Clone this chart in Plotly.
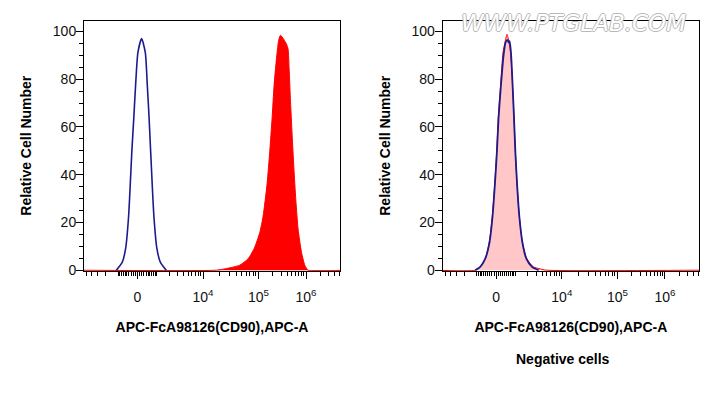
import numpy as np
import plotly.graph_objects as go

# ---------------- data (fluorescence intensity vs relative cell number) ----------------
# Left panel: CD90 stained (filled red) vs control (blue line)
red_left_x = [-8000, 17500, 26500, 46000, 65000, 83300, 106500, 125000, 151700, 172900,
              193400, 213000, 246400, 267600, 290500, 341000, 389000, 420000, 441000,
              472000, 510000, 554000, 610000, 682000, 804000, 943000, 1107000, 6000000]
red_left_y = [0, 0, 0.7, 2.1, 4.8, 9.0, 15.8, 22.6, 36.3, 50.0,
              63.8, 77.5, 91.2, 96.7, 98.4, 96.7, 94.7, 92.6, 84.4,
              70.7, 56.9, 43.2, 29.5, 17.2, 7.5, 2.1, 0, 0]

blue_left_x = [-1130, -754, -572, -419, -259, -170, -87, 18, 189, 365, 464, 556, 636,
               823, 1011, 1244, 1731]
blue_left_y = [0, 3.4, 9, 22.6, 50.2, 63.8, 77.5, 91.2, 97.1, 91.2, 77.5, 63.8, 50.2,
               22.6, 9, 3.4, 0]

# Right panel: negative cells (pink filled) vs control (blue line)
red_right_x = [-8000, -1116, -800, -525, -326, -184, -69, 23, 92, 198, 312, 399, 510, 562,
               647, 714, 818, 903, 986, 1099, 1260, 1498, 1900, 2630, 3680, 4880, 6000000]
red_right_y = [0, 0, 1.4, 4.8, 11.7, 22.6, 36.3, 50, 63.8, 77.5, 91, 95, 98.8, 97.5,
               94, 90, 77.5, 63.8, 50, 36.3, 22.6, 11.7, 4.8, 1.4, 0.5, 0, 0]

blue_right_x = [-1116, -800, -525, -312, -170, -60, 32, 105, 217, 340, 439, 541, 593, 647,
                724, 818, 903, 986, 1099, 1260, 1498, 1850, 2468, 3390]
blue_right_y = [0, 1.4, 4.8, 11.7, 22.6, 36.3, 50, 63.8, 77.5, 90, 95.5, 96.5, 95.5, 96,
                91.2, 77.5, 63.8, 50, 36.3, 22.6, 11.7, 4.8, 1.4, 0]

tick_values = [0, 1e4, 1e5, 1e6]
tick_labels = ["0", "10<sup>4</sup>", "10<sup>5</sup>", "10<sup>6</sup>"]
minor_tick_values = ([-k * 100 for k in range(1, 10)] + [-k * 1000 for k in range(1, 6)] +
                     [k * 100 for k in range(1, 10)] + [k * 1000 for k in range(1, 10)] +
                     [k * 10000 for k in range(2, 10)] + [k * 100000 for k in range(2, 10)] +
                     [k * 1000000 for k in range(2, 6)])

x_title = "APC-FcA98126(CD90),APC-A"
y_title = "Relative Cell Number"
panel_title = "Negative cells"
watermark = "WWW.PTGLAB.COM"

# ---------------- biexponential-like display scale ----------------
W = 1000.0
SCALE_DECADES = np.array([0, 1e4, 1e5, 1e6])
SCALE_UNITS = np.array([0, 65.5, 121.0, 168.5])


def biex(v):
    u = np.arcsinh(np.asarray(v, dtype=float) / W)
    ku = np.arcsinh(SCALE_DECADES / W)
    out = np.interp(u, ku, SCALE_UNITS)
    s0 = (SCALE_UNITS[1] - SCALE_UNITS[0]) / (ku[1] - ku[0])
    s1 = (SCALE_UNITS[-1] - SCALE_UNITS[-2]) / (ku[-1] - ku[-2])
    lo = u < ku[0]
    hi = u > ku[-1]
    out[lo] = SCALE_UNITS[0] + (u[lo] - ku[0]) * s0
    out[hi] = SCALE_UNITS[-1] + (u[hi] - ku[-1]) * s1
    return out


X_RANGE = [-53.5, 202.5]
Y_RANGE = [-0.3, 104.6]

RED = "#ff0000"
NAVY = "#1d1a8e"
FONT = "Liberation Sans, Arial, sans-serif"

fig = go.Figure()

fig.add_trace(go.Scatter(x=biex(red_left_x), y=red_left_y, mode="lines",
                         line=dict(color=RED, width=1, shape="spline", smoothing=0.6),
                         fill="tozeroy", fillcolor=RED, xaxis="x", yaxis="y",
                         showlegend=False, hoverinfo="skip"))
fig.add_trace(go.Scatter(x=biex(blue_left_x), y=blue_left_y, mode="lines",
                         line=dict(color=NAVY, width=1.6, shape="spline", smoothing=0.6),
                         xaxis="x", yaxis="y", showlegend=False, hoverinfo="skip"))
fig.add_trace(go.Scatter(x=biex(red_right_x), y=red_right_y, mode="lines",
                         line=dict(color=RED, width=1, shape="spline", smoothing=0.6),
                         fill="tozeroy", fillcolor="rgba(255,0,0,0.22)", xaxis="x2", yaxis="y2",
                         showlegend=False, hoverinfo="skip"))
fig.add_trace(go.Scatter(x=biex(blue_right_x), y=blue_right_y, mode="lines",
                         line=dict(color=NAVY, width=1.8, shape="spline", smoothing=0.6),
                         xaxis="x2", yaxis="y2", showlegend=False, hoverinfo="skip"))

tickfont = dict(family=FONT, size=14, color="#111")
titlefont = dict(family=FONT, size=14, color="#000", weight="bold")

xaxis_common = dict(
    range=X_RANGE, tickmode="array", tickvals=biex(tick_values).tolist(), ticktext=tick_labels,
    ticks="outside", ticklen=7, tickwidth=1, tickcolor="black", ticklabelstandoff=6,
    minor=dict(tickmode="array", tickvals=biex(minor_tick_values).tolist(), ticks="outside",
               ticklen=4, tickwidth=1, tickcolor="black", showgrid=False),
    showline=True, linecolor="black", linewidth=1, mirror=True, showgrid=False,
    zeroline=False, tickfont=tickfont, fixedrange=True,
    title=dict(text=x_title, font=titlefont, standoff=18),
)
yaxis_common = dict(
    range=Y_RANGE, tickmode="linear", tick0=0, dtick=20, ticks="outside", ticklen=7,
    tickwidth=1, tickcolor="black", ticklabelstandoff=-3,
    minor=dict(dtick=5, ticks="outside", ticklen=4, tickwidth=1, tickcolor="black",
               showgrid=False),
    showline=True, linecolor="black", linewidth=1, mirror=True, showgrid=False,
    zeroline=False, tickfont=tickfont, fixedrange=True,
    title=dict(text=y_title, font=titlefont, standoff=17),
)

# The page body adds an 8 px offset; the figure is sized so the page fills 719x399.
OFF = 8
FW, FH = 719 - OFF, 399 - OFF
M = 4
PW, PH = FW - 2 * M, FH - 2 * M


def px_x(x):
    return (x - OFF - M) / PW


def px_y(y):
    return (FH - M - (y - OFF)) / PH


fig.update_layout(
    width=FW, height=FH, margin=dict(l=M, r=M, t=M, b=M),
    paper_bgcolor="white", plot_bgcolor="white",
    xaxis=dict(domain=[px_x(84), px_x(340)], anchor="y", **xaxis_common),
    yaxis=dict(domain=[px_y(275.7), px_y(20.7)], anchor="x", **yaxis_common),
    xaxis2=dict(domain=[px_x(442.7), px_x(699)], anchor="y2", **xaxis_common),
    yaxis2=dict(domain=[px_y(275.7), px_y(20.7)], anchor="x2", **yaxis_common),
    annotations=[
        dict(text=panel_title, xref="paper", yref="paper", x=px_x(563), y=px_y(365),
             xanchor="center", yanchor="middle", showarrow=False, font=titlefont),
        dict(text=watermark, xref="paper", yref="paper", x=px_x(573), y=px_y(23),
             xanchor="center", yanchor="middle", showarrow=False,
             font=dict(family="DejaVu Sans, sans-serif", size=23, color="white", style="italic",
                       shadow="1px 0 0 #b8b8b8, -1px 0 0 #b8b8b8, 0 1px 0 #b8b8b8, 0 -1px 0 #b8b8b8")),
    ],
)

fig.write_html("out.html")
